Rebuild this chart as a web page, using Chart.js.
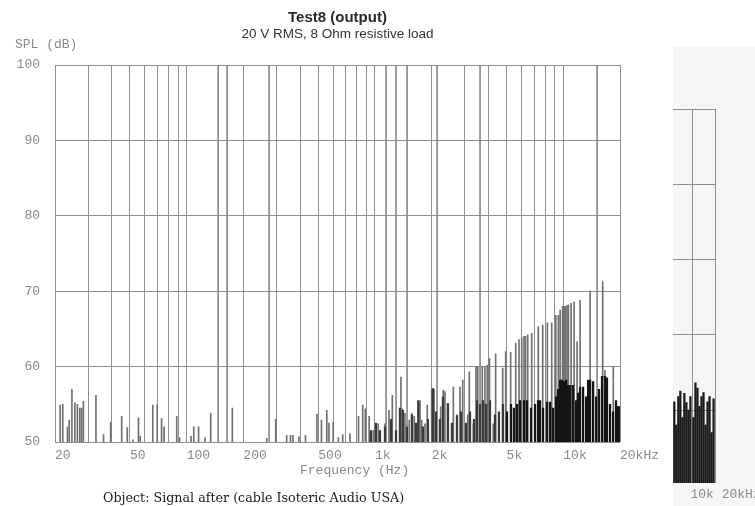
<!DOCTYPE html>
<html><head><meta charset="utf-8">
<script src="https://cdn.jsdelivr.net/npm/chart.js@4"></script>
<style>
html,body{margin:0;padding:0;background:#fff;}
#wrap{position:relative;width:755px;height:506px;overflow:hidden;background:#fff;}
#fragbg{position:absolute;left:673px;top:47px;width:82px;height:459px;background:#f6f6f6;}
#fragc{position:absolute;left:673px;top:100px;}
#mainc{position:absolute;left:0;top:0;background:#fff;}
.t{position:absolute;white-space:nowrap;line-height:1;}
.mono{font-family:"Liberation Mono","DejaVu Sans Mono",monospace;font-size:13px;color:#8a8a8a;}
</style></head><body>
<div id="wrap">
<div id="fragbg"></div>
<canvas id="fragc" width="82" height="406"></canvas>
<canvas id="mainc" width="673" height="506"></canvas>
<div class="t" style="left:0;width:675px;top:8px;text-align:center;font:bold 15px 'Liberation Sans',Arial,sans-serif;color:#2a2a2a;">Test8 (output)</div>
<div class="t" style="left:0;width:675px;top:26px;text-align:center;font:13.5px 'Liberation Sans',Arial,sans-serif;color:#333;">20 V RMS, 8 Ohm resistive load</div>
<div class="t mono" style="left:15px;top:38px;">SPL (dB)</div>
<div class="t mono" style="left:300px;top:464px;">Frequency (Hz)</div>
<div class="t" style="left:103px;top:490px;font:12.7px 'DejaVu Serif',serif;color:#1a1a1a;">Object: Signal after (cable Isoteric Audio USA)</div>
</div>
<script>
// ---- axis definitions ----
const gridFreqs = [20,30,40,50,60,70,80,90,100,200,300,400,500,600,700,800,900,1000,2000,3000,4000,5000,6000,7000,8000,9000,10000,20000];
const labelFreqs = [20,50,100,200,500,1000,2000,5000,10000,20000];
const labelTexts = ['20','50','100','200','500','1k','2k','5k','10k','20kHz'];
const yTicks = [50,60,70,80,90,100];

// ---- spikes that run off the top of the chart (clipped at 100 dB) ----
const overFreqs = [147,164,274,1145,1294,1481,2137,3614,15114];
const overLevels = [100,100,100,100,100,100,100,100,100];

// ---- upper (light) spectrum lines ----
const spikeFreqs = [21.3,22.0,23.3,23.8,24.6,25.5,26.3,27.1,27.7,28.3,33.0,36.2,39.5,45.2,48.4,51.9,55.5,56.7,66.1,69.8,73.6,75.9,88.6,91.7,105.5,109.1,115.7,125.2,134.2,174.8,266.2,297.1,339.8,356,367,394.7,427.6,492,519.9,554.9,570,600,639,673.9,736.9,817.8,860.7,887.9,931.5,979.4,1006,1041,1130,1187,1236,1374,1396,1443,1521,1566,1617,1698,1734,1770,1843,1895,2000,2057,2233,2304,2353,2432,2554,2607,2717,2829,2924,3108,3168,3329,3440,3512,3713,3835,3946,4054,4246,4373,4767,4945,5254,5589,5818,6014,6186,6300,6472,6796,7365,7775,8231,8681,9122,9414,9617,9915,10098,10285,10475,10644,11000,11411,11838,12280,13876,16188,16653,18426,19586];
const spikeLevels = [54.9,55.0,52.0,52.9,57.0,55.2,55.0,54.5,54.5,55.4,56.2,51.0,52.6,53.4,51.9,50.3,53.2,50.8,54.9,54.9,53.1,52.0,53.4,50.6,50.8,52.0,52.0,50.6,53.8,54.5,50.5,53.0,50.9,50.9,50.9,50.7,50.9,53.7,52.9,54.2,52.5,52.6,50.6,51.0,51.1,53.4,54.9,54.4,53.4,51.5,52.0,52.4,52.4,54.2,56.2,58.6,54.4,53.8,52.9,53.8,53.4,55.1,55.5,52.9,52.4,54.9,57.0,57.0,54.7,56.9,56.7,55.1,52.4,57.3,53.6,57.3,58.2,53.6,59.3,52.4,60.0,60.0,60.0,60.0,60.2,61.1,52.4,61.7,59.8,62.0,61.9,63.1,63.6,63.8,64.0,64.0,64.2,64.4,65.3,65.5,65.8,65.8,66.8,66.8,67.5,68.0,68.0,68.0,68.1,68.2,68.4,68.6,63.3,68.8,70.0,71.3,59.5,60.0,54.7];

// ---- dense dark floor of the spectrum ----
const floorFreqs = [952,1012,1063,1130,1216,1293,1357,1408,1479,1573,1651,1698,1798,1911,2032,2108,2212,2296,2441,2565,2727,2862,3044,3196,3357,3482,3614,3743,3884,4079,4336,4553,4781,5024,5277,5470,5679,5891,6186,6418,6738,7077,7341,7524,7807,8197,8504,8825,9156,9380,9617,9854,10098,10348,10605,10868,11271,11694,11985,12280,12737,13214,13542,13876,14395,14933,15474,16053,16653,17060,17699,18361,19046,19516,19900];
const floorLevels = [51.5,52.5,51.5,52.0,53.0,51.5,54.5,54.2,52.0,53.6,52.5,55.5,52.0,53.0,57.1,54.0,53.0,56.0,55.1,52.5,53.5,54.0,52.5,54.0,53.0,55.5,55.0,55.5,55.0,55.5,53.6,54.0,55.0,54.0,55.0,54.5,55.0,55.5,55.5,55.5,54.5,55.0,55.5,55.5,54.5,55.3,55.3,54.5,56.0,57.0,58.2,58.2,58.0,58.2,57.5,57.5,57.5,55.5,56.5,57.3,57.3,56.0,58.2,58.2,58.0,56.0,57.0,58.7,58.7,58.5,55.0,54.0,55.5,54.7,54.7];

// ---- overlapping fragment of a second plot (right edge) ----
const fragGrid = [10000];
const fragYGrid = [60,70,80,90,100];
const fragFreqs = [6689,6994,7314,7649,7999,8365,8747,9144,9563,10226,10694,11183,11694,12229,12788,13373,13984,14623,15292,15991];
const fragLevels = [61.1,58.0,61.8,62.5,59.0,62.2,61.0,60.0,61.8,59.0,63.6,62.9,60.5,61.8,62.3,58.0,61.1,61.8,57.0,61.5];
const fragLabelFreqs = [10000,20000];
const fragLabelTexts = ['10k','20kHz'];

const pts = (xs, ys) => xs.map((x, i) => ({x: x, y: ys[i]}));
const monoFont = {family: "'Liberation Mono','DejaVu Sans Mono',monospace", size: 13};
const gridCol = '#8f8f8f';
const floorColor = c => (c.raw && c.raw.x >= 5000) ? '#151515' : '#3a3a3a';

new Chart(document.getElementById('mainc'), {
  type: 'bar',
  data: {
    datasets: [
      {label: 'floor', data: pts(floorFreqs, floorLevels), backgroundColor: floorColor, barThickness: 1.6, grouped: false, order: 1},
      {label: 'spikes', data: pts(spikeFreqs, spikeLevels), backgroundColor: '#707070', barThickness: 1, grouped: false, order: 2},
      {label: 'over', data: pts(overFreqs, overLevels), backgroundColor: '#8a8a8a', barThickness: 1, grouped: false, order: 3}
    ]
  },
  options: {
    responsive: false, animation: false, devicePixelRatio: 1,
    layout: {padding: {left: 0, right: 53, top: 65, bottom: 0}},
    plugins: {legend: {display: false}, tooltip: {enabled: false}, title: {display: false}},
    datasets: {bar: {borderWidth: 0}},
    scales: {
      x: {
        type: 'logarithmic', min: 20, max: 20000, offset: false,
        afterBuildTicks: s => { s.ticks = gridFreqs.map(v => ({value: v})); },
        afterFit: s => { s.height = 64; },
        grid: {color: gridCol, lineWidth: 1, offset: false, drawTicks: false},
        border: {display: false},
        ticks: {
          autoSkip: false, maxRotation: 0, minRotation: 0, align: 'start', padding: 6,
          color: '#8a8a8a', font: monoFont,
          callback: v => { const i = labelFreqs.indexOf(v); return i >= 0 ? labelTexts[i] : ''; }
        }
      },
      y: {
        type: 'linear', min: 50, max: 100,
        afterBuildTicks: s => { s.ticks = yTicks.map(v => ({value: v})); },
        afterFit: s => { s.width = 55; },
        grid: {color: gridCol, lineWidth: 1, drawTicks: false},
        border: {display: true, color: gridCol},
        ticks: {padding: 15, color: '#8a8a8a', font: monoFont}
      }
    }
  }
});

const fragLabels = {
  id: 'fragLabels',
  afterDraw(chart) {
    const ctx = chart.ctx, xs = chart.scales.x;
    ctx.save();
    ctx.font = "13px 'Liberation Mono','DejaVu Sans Mono',monospace";
    ctx.fillStyle = '#8a8a8a';
    ctx.textAlign = 'left';
    ctx.textBaseline = 'middle';
    fragLabelFreqs.forEach((f, i) => ctx.fillText(fragLabelTexts[i], xs.getPixelForValue(f) - 2, 395));
    ctx.restore();
  }
};

new Chart(document.getElementById('fragc'), {
  type: 'bar',
  data: {datasets: [{data: pts(fragFreqs, fragLevels), backgroundColor: '#1a1a1a', barThickness: 1.6, grouped: false}]},
  options: {
    responsive: false, animation: false, devicePixelRatio: 1,
    layout: {padding: {left: 0, right: 40, top: 9, bottom: 23}},
    plugins: {legend: {display: false}, tooltip: {enabled: false}},
    datasets: {bar: {borderWidth: 0}},
    scales: {
      x: {
        type: 'logarithmic', min: 6500, max: 16500, offset: false,
        afterBuildTicks: s => { s.ticks = fragGrid.concat([16500]).map(v => ({value: v})); },
        afterFit: s => { s.height = 0; },
        grid: {color: gridCol, offset: false, drawTicks: false},
        border: {display: false},
        ticks: {display: false}
      },
      y: {
        type: 'linear', min: 50.3, max: 100, display: true,
        afterBuildTicks: s => { s.ticks = fragYGrid.map(v => ({value: v})); },
        afterFit: s => { s.width = 0; },
        grid: {color: gridCol, drawTicks: false},
        border: {display: false},
        ticks: {display: false}
      }
    }
  },
  plugins: [fragLabels]
});
</script>
</body></html>
